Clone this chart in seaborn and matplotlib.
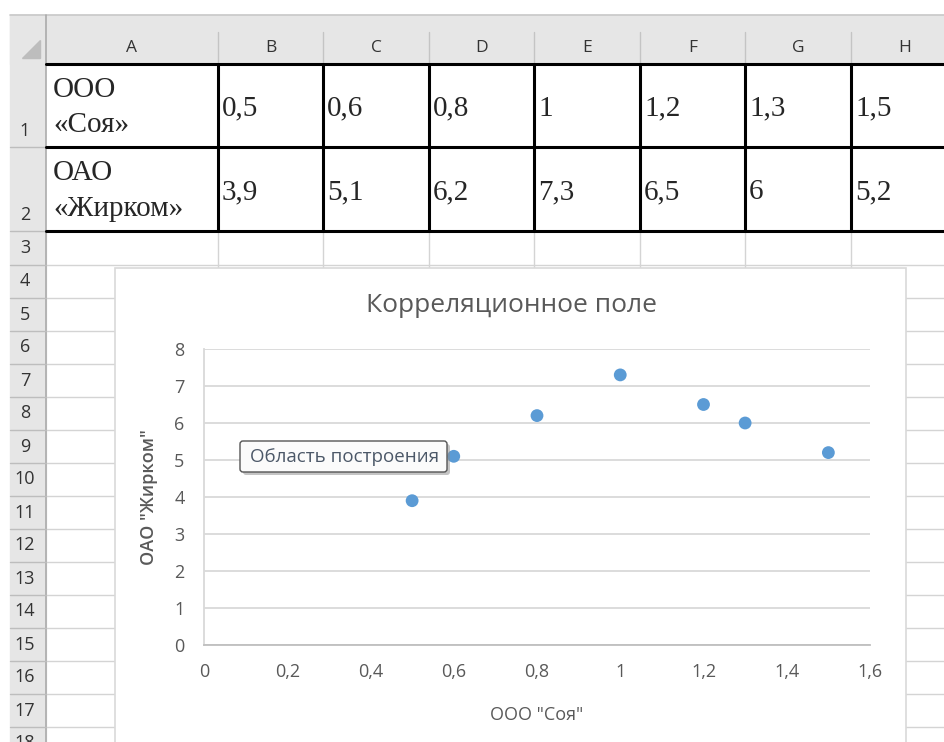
import matplotlib
matplotlib.use("Agg")
import matplotlib.pyplot as plt
import seaborn as sns
from matplotlib.patches import Rectangle, FancyBboxPatch, Polygon
from matplotlib.ticker import FuncFormatter

# data from the sheet
soy = [0.5, 0.6, 0.8, 1.0, 1.2, 1.3, 1.5]
zhirkom = [3.9, 5.1, 6.2, 7.3, 6.5, 6.0, 5.2]
row_names = ["ООО\n«Соя»", "ОАО\n«Жирком»"]
col_letters = ["A", "B", "C", "D", "E", "F", "G", "H"]
x_ticks = [0, 0.2, 0.4, 0.6, 0.8, 1.0, 1.2, 1.4, 1.6]
y_ticks = [0, 1, 2, 3, 4, 5, 6, 7, 8]

def comma(v, pos=None):
    s = ("%g" % v)
    return s.replace(".", ",")

sns.set_style("white")
plt.rcParams['font.family'] = ['Open Sans', 'DejaVu Sans']

W, H = 944, 742
fig = plt.figure(figsize=(W / 100, H / 100), dpi=100)

# spreadsheet background in pixel coords
bg = fig.add_axes([0, 0, 1, 1])
bg.set_xlim(0, W)
bg.set_ylim(H, 0)
bg.axis("off")

col_edges = [46, 218, 323, 429, 534, 640, 745, 851, 957]
row_edges = [64, 147, 231, 265, 298, 331, 364, 397, 430, 463, 496, 529,
             562, 595, 628, 661, 694, 727, 760]
grid_c = "#D4D4D4"
head_c = "#E6E6E6"

# cell gridlines
for x in col_edges[1:]:
    bg.plot([x, x], [64, H], color=grid_c, lw=1, zorder=1)
for y in row_edges[1:]:
    bg.plot([46, W], [y, y], color=grid_c, lw=1, zorder=1)

# headers
bg.add_patch(Rectangle((10, 15), W, 49, color=head_c, zorder=2))
bg.add_patch(Rectangle((10, 15), 36, H, color=head_c, zorder=2))
bg.plot([10, W], [15, 15], color="#C8C8C8", lw=1.2, zorder=3)
bg.plot([46, W], [63.5, 63.5], color="#ABABAB", lw=1.2, zorder=3)
bg.plot([46, 46], [15, H], color="#ABABAB", lw=1.2, zorder=3)
bg.add_patch(Polygon([[40, 40], [40, 58], [22, 58]], color="#BDBDBD", zorder=3))
for x in col_edges[1:-1]:
    bg.plot([x, x], [32, 64], color="#C4C4C4", lw=1, zorder=3)
for i, letter in enumerate(col_letters):
    cx = (col_edges[i] + col_edges[i + 1]) / 2
    if i == len(col_letters) - 1:
        cx = 905
    bg.text(cx, 48, letter, ha="center", va="center", fontsize=12.5,
            color="#333333", zorder=4)
for i in range(len(row_edges) - 1):
    y0, y1 = row_edges[i], row_edges[i + 1]
    bg.plot([10, 46], [y1, y1], color="#BDBDBD", lw=1, zorder=3)
    ty = y1 - 16 if i < 2 else (y0 + y1) / 2
    bg.text(25, ty, str(i + 1), ha="center", va="center", fontsize=13,
            color="#333333", zorder=4)

# table contents
serif = ["Liberation Serif", "DejaVu Serif"]
for r, (name, vals) in enumerate(zip(row_names, [soy, zhirkom])):
    y0, y1 = row_edges[r], row_edges[r + 1]
    bg.add_patch(Rectangle((46, y0), W - 46, y1 - y0, color="white", zorder=2))
    bg.text(53, (y0 + y1) / 2 + 2, name, ha="left", va="center",
            fontsize=21, family=serif, linespacing=1.45, zorder=4)
    for c, v in enumerate(vals):
        bg.text(col_edges[c + 1] + 4, (y0 + y1) / 2 + 3, comma(v),
                ha="left", va="center", fontsize=21, family=serif, zorder=4)
for y in row_edges[:3]:
    bg.plot([46, W], [y, y], color="black", lw=2.2, zorder=5)
for x in col_edges[1:-1]:
    bg.plot([x, x], [64, 231], color="black", lw=2.2, zorder=5)

# chart area
bg.add_patch(Rectangle((115, 268), 791, 500, facecolor="white",
                       edgecolor="#D9D9D9", lw=1.2, zorder=6))
bg.text(511, 305, "Корреляционное поле", ha="center", va="center",
        fontsize=19, color="#595959", zorder=7)

ax = fig.add_axes([204 / W, 1 - 645 / H, 666 / W, 296 / H])
ax.set_zorder(8)
ax.patch.set_alpha(0)
sns.scatterplot(x=soy, y=zhirkom, ax=ax, color="#5B9BD5", s=85,
                edgecolor="none", zorder=5)
ax.set_xlim(0, 1.6)
ax.set_ylim(0, 8)
ax.set_xticks(x_ticks)
ax.set_yticks(y_ticks)
ax.xaxis.set_major_formatter(FuncFormatter(comma))
ax.yaxis.set_major_formatter(FuncFormatter(comma))
ax.grid(axis="y", color="#D9D9D9", lw=1.3)
ax.grid(axis="x", visible=False)
for s in ["top", "right"]:
    ax.spines[s].set_visible(False)
ax.spines["left"].set_color("#D9D9D9")
ax.spines["bottom"].set_color("#BFBFBF")
ax.spines["left"].set_linewidth(1.3)
ax.spines["bottom"].set_linewidth(1.3)
ax.tick_params(axis="both", length=0, labelsize=13, labelcolor="#595959")
ax.tick_params(axis="y", pad=14)
ax.tick_params(axis="x", pad=13)
ax.set_xlabel('ООО "Соя"', fontsize=13, color="#595959")
ax.set_ylabel('ОАО "Жирком"', fontsize=13, color="#595959",
              fontweight="semibold")
ax.xaxis.set_label_coords(0.5, -0.205)
ax.yaxis.set_label_coords(-0.069, 0.5)

# hover tooltip, on its own layer above the chart
top = fig.add_axes([0, 0, 1, 1])
top.set_zorder(20)
top.patch.set_alpha(0)
top.set_xlim(0, W)
top.set_ylim(H, 0)
top.axis("off")
top.add_patch(FancyBboxPatch((243, 444), 207, 31, boxstyle="round,pad=0,rounding_size=3",
                             facecolor="#8A8A8A", edgecolor="none", alpha=0.5))
top.add_patch(FancyBboxPatch((240, 441), 207, 31, boxstyle="round,pad=0,rounding_size=3",
                             facecolor="#FBFBFB", edgecolor="#555555", lw=1))
top.text(250, 457, "Область построения", ha="left", va="center", fontsize=13.5,
         color="#4C5868")

fig.savefig("out.png", dpi=100)
